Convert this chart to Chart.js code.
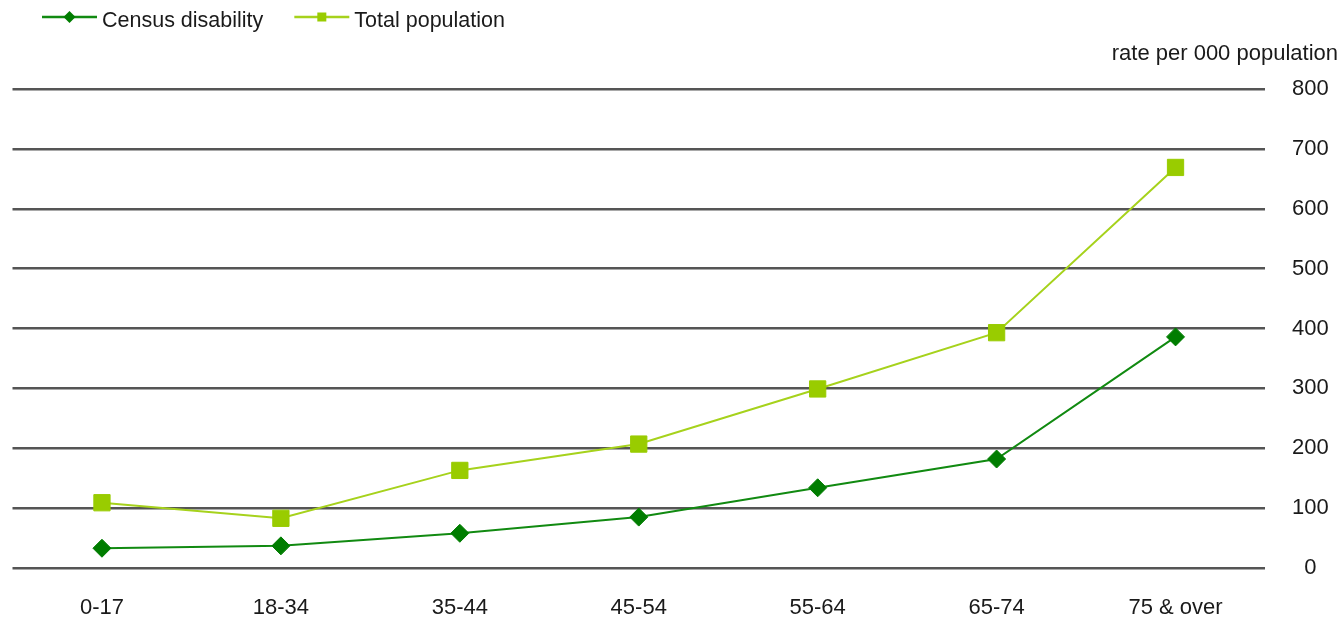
<!DOCTYPE html>
<html>
<head>
<meta charset="utf-8">
<script src="https://cdn.jsdelivr.net/npm/chart.js@4.4.1/dist/chart.umd.min.js"></script>
<style>
  html, body { margin: 0; padding: 0; background: #ffffff; }
  canvas { display: block; }
</style>
</head>
<body>
<canvas id="chart" width="1341" height="623"></canvas>
<script>
// Age bands on the category axis
const ageGroups = ['0-17', '18-34', '35-44', '45-54', '55-64', '65-74', '75 & over'];

// Rates per 000 population by age band
const censusDisability = [33, 37, 58, 85, 134, 182, 386];
const totalPopulation = [109, 83, 163, 207, 299, 393, 669];

// Value axis
const yMin = 0;
const yMax = 800;
const yStep = 100;
const unitsLabel = 'rate per 000 population';

const seriesNames = ['Census disability', 'Total population'];

const FONT_FAMILY = '"Liberation Sans", Arial, sans-serif';
const TEXT_COLOR = '#1a1a1a';

// Legend drawn as line + marker + label, like the plotted series
const lineLegend = {
  id: 'lineLegend',
  afterDraw(chart) {
    const ctx = chart.ctx;
    ctx.save();
    ctx.font = '21.5px ' + FONT_FAMILY;
    ctx.textBaseline = 'alphabetic';
    ctx.textAlign = 'left';
    let x = 42;
    const yLine = 17;
    const lineLen = 55;
    chart.data.datasets.forEach((ds) => {
      ctx.strokeStyle = ds.borderColor;
      ctx.lineWidth = 2.5;
      ctx.beginPath();
      ctx.moveTo(x, yLine);
      ctx.lineTo(x + lineLen, yLine);
      ctx.stroke();
      ctx.fillStyle = ds.pointBackgroundColor;
      const cx = x + lineLen / 2;
      ctx.beginPath();
      if (ds.pointStyle === 'rectRot') {
        const r = 6;
        ctx.moveTo(cx - r, yLine);
        ctx.lineTo(cx, yLine - r);
        ctx.lineTo(cx + r, yLine);
        ctx.lineTo(cx, yLine + r);
        ctx.closePath();
      } else {
        const s = 4.5;
        ctx.rect(cx - s, yLine - s, 2 * s, 2 * s);
      }
      ctx.fill();
      ctx.fillStyle = TEXT_COLOR;
      const tx = x + lineLen + 5;
      ctx.fillText(ds.label, tx, 27);
      x = tx + ctx.measureText(ds.label).width + 31;
    });
    ctx.restore();
  }
};

// Units caption above the right-hand value axis
const unitsCaption = {
  id: 'unitsCaption',
  afterDraw(chart) {
    const ctx = chart.ctx;
    ctx.save();
    ctx.font = '22px ' + FONT_FAMILY;
    ctx.fillStyle = TEXT_COLOR;
    ctx.textAlign = 'right';
    ctx.textBaseline = 'alphabetic';
    ctx.fillText(unitsLabel, 1338, 60);
    ctx.restore();
  }
};

new Chart(document.getElementById('chart'), {
  type: 'line',
  data: {
    labels: ageGroups,
    datasets: [
      {
        label: seriesNames[0],
        data: censusDisability,
        borderColor: '#118a11',
        borderWidth: 2,
        pointStyle: 'rectRot',
        pointRadius: 9,
        pointHoverRadius: 9,
        pointBackgroundColor: '#007d00',
        pointBorderColor: '#007d00',
        pointBorderWidth: 1,
        tension: 0,
        order: 1
      },
      {
        label: seriesNames[1],
        data: totalPopulation,
        borderColor: '#a6d21c',
        borderWidth: 2,
        pointStyle: 'rect',
        pointRadius: 11.5,
        pointHoverRadius: 11.5,
        pointBackgroundColor: '#99cc00',
        pointBorderColor: '#99cc00',
        pointBorderWidth: 1,
        tension: 0,
        order: 2
      }
    ]
  },
  options: {
    responsive: false,
    animation: false,
    devicePixelRatio: 1,
    layout: { padding: { left: 12, top: 89, right: 0, bottom: 0 } },
    plugins: {
      legend: { display: false },
      tooltip: { enabled: false },
      title: { display: false }
    },
    scales: {
      x: {
        offset: true,
        grid: { display: false, drawTicks: false },
        border: { display: false },
        ticks: {
          color: TEXT_COLOR,
          font: { family: FONT_FAMILY, size: 22 },
          padding: 27,
          maxRotation: 0,
          autoSkip: false
        },
        afterFit(scale) { scale.height = 55; }
      },
      y: {
        position: 'right',
        min: yMin,
        max: yMax,
        grid: { color: '#555555', lineWidth: 2.5, drawTicks: false },
        border: { display: false },
        ticks: {
          stepSize: yStep,
          color: TEXT_COLOR,
          font: { family: FONT_FAMILY, size: 22 },
          padding: 27,
          crossAlign: 'center'
        },
        afterFit(scale) { scale.width = 76; }
      }
    }
  },
  plugins: [lineLegend, unitsCaption]
});
</script>
</body>
</html>
